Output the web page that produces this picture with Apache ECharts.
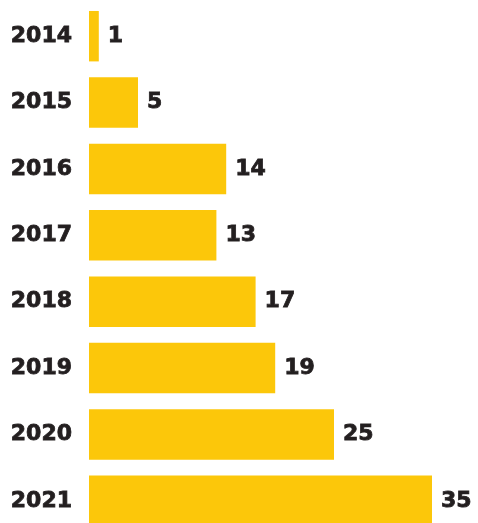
<!DOCTYPE html>
<html><head><meta charset="utf-8">
<style>html,body{margin:0;padding:0;background:#fff;overflow:hidden}#c{width:478px;height:540px}</style>
<script src="https://cdn.jsdelivr.net/npm/echarts@6/dist/echarts.min.js"></script>
</head><body><div id="c"></div>
<script>
const categories = ["2014","2015","2016","2017","2018","2019","2020","2021"];
const values = [1, 5, 14, 13, 17, 19, 25, 35];
const chart = echarts.init(document.getElementById('c'));
const font = { fontFamily: 'DejaVu Sans', fontWeight: 'bold', fontSize: 22, color: '#231F20',
  textBorderColor: '#231F20', textBorderWidth: 0.8 };
chart.setOption({
  animation: false,
  grid: { left: 89, top: 3, width: 343, height: 531, containLabel: false },
  xAxis: { type: 'value', min: 0, max: 35, show: false },
  yAxis: {
    type: 'category', data: categories, inverse: true,
    axisLine: { show: false }, axisTick: { show: false }, splitLine: { show: false },
    axisLabel: Object.assign({ margin: 17 }, font)
  },
  series: [{
    type: 'bar', data: values, barCategoryGap: '24%',
    itemStyle: { color: '#FCC70A' },
    label: Object.assign({ show: true, position: 'right', distance: 9 }, font)
  }]
});
</script></body></html>
